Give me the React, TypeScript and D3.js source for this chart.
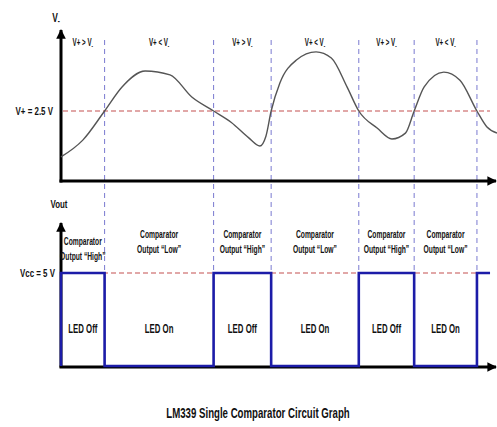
import * as d3 from "d3"

// time axis is 0..100 (arbitrary units), voltages in volts
const waveT = [0, 5, 10, 14, 19.3, 25, 30, 35, 39, 43, 45.6, 47, 48.2, 50.2, 54, 58.5, 62, 65.6, 68.3, 72.5, 75.9, 79, 81, 83.3, 87.8, 91.5, 95.4, 97.7, 100]
const waveV = [0.86, 1.46, 2.5, 3.36, 3.93, 3.79, 3.0, 2.5, 2.1, 1.55, 1.25, 1.6, 2.5, 3.5, 4.32, 4.61, 4.39, 3.36, 2.5, 1.89, 1.5, 1.71, 2.5, 3.36, 3.89, 3.6, 2.5, 1.93, 1.71]
const crossings = [10, 35, 48.2, 68.3, 81, 95.4]
const regionLabels = ["V+ > V", "V+ < V", "V+ > V", "V+ < V", "V+ > V", "V+ < V"]
const outStates = [1, 0, 1, 0, 1, 0, 1]
const outEnd = 98.4
const vRef = 2.5
const vcc = 5
const compLabels = ["Output \u201cHigh\u201d", "Output \u201cLow\u201d"]
const ledLabels = ["LED On", "LED Off"]
const title = "LM339 Single Comparator  Circuit Graph"

const W = 497, H = 427
const FONT = "'Liberation Sans', Arial, sans-serif"
const BLUE = "#1c1ca8"
const DASH_V = "#7a7ad0"
const DASH_H = "#d88a8a"

// condensed text: no narrow font available, so squeeze horizontally
function T(props: { x: number; y: number; size: number; sx: number; anchor?: string; children: any }) {
  const { x, y, size, sx, anchor = "middle", children } = props
  return (
    <g transform={`translate(${x},${y}) scale(${sx},1)`}>
      <text fontSize={size} fontWeight="bold" textAnchor={anchor}>{children}</text>
    </g>
  )
}

export default function App() {
  const x = d3.scaleLinear().domain([0, 100]).range([61, 497])
  const yTop = d3.scaleLinear().domain([0, 5]).range([181, 41])
  const yBot = d3.scaleLinear().domain([0, vcc]).range([366, 273])

  const pts = waveT.map((t, i) => [t, waveV[i]] as [number, number])
  const line = d3.line<[number, number]>().x(d => x(d[0])).y(d => yTop(d[1])).curve(d3.curveMonotoneX)

  const bounds = [0, ...crossings, outEnd]
  const sq: [number, number][] = []
  outStates.forEach((s, i) => {
    sq.push([bounds[i], s * vcc])
    sq.push([bounds[i + 1], s * vcc])
  })
  const sqLine = d3.line<[number, number]>().x(d => x(d[0])).y(d => yBot(d[1]))
  const sqPath = "M" + x(0) + "," + yBot(0) + (sqLine(sq) || "").replace(/^M/, "L")

  const regions = bounds.slice(0, -2).map((b, i) => ({ a: b, b: bounds[i + 1], i }))

  return (
    <svg width={W} height={H} style={{ position: "absolute", left: 0, top: 0, background: "#fff" }}>
      <defs>
        <marker id="arr" viewBox="0 0 10 10" refX="9" refY="5" markerWidth="3.2" markerHeight="3.2" orient="auto">
          <path d="M0,0 L10,5 L0,10 z" fill="#000" />
        </marker>
      </defs>
      <g fontFamily={FONT} fill="#111">
        {/* vertical dashed region lines */}
        {crossings.map(c => (
          <line key={c} x1={x(c)} x2={x(c)} y1={40} y2={yBot(vcc)} stroke={DASH_V} strokeWidth={1} strokeDasharray="5,4" />
        ))}
        {/* reference lines */}
        <line x1={x(0) + 2} x2={x(98.4)} y1={yTop(vRef)} y2={yTop(vRef)} stroke={DASH_H} strokeWidth={1.3} strokeDasharray="5,3" />
        <line x1={x(0) + 2} x2={x(98.4)} y1={yBot(vcc)} y2={yBot(vcc)} stroke={DASH_H} strokeWidth={1.3} strokeDasharray="5,3" />

        {/* top axes */}
        <line x1={x(0)} x2={x(0)} y1={yTop(0) + 1.5} y2={30} stroke="#000" strokeWidth={3} markerEnd="url(#arr)" />
        <line x1={x(0) - 1.5} x2={W - 1} y1={yTop(0)} y2={yTop(0)} stroke="#000" strokeWidth={3} markerEnd="url(#arr)" />
        <path d={line(pts) || ""} fill="none" stroke="#555" strokeWidth={1.4} />

        {/* bottom axes */}
        <line x1={x(0)} x2={x(0)} y1={yBot(0) + 1.5} y2={223} stroke="#000" strokeWidth={3} markerEnd="url(#arr)" />
        <line x1={x(0) - 1.5} x2={W - 1} y1={yBot(0) + 1} y2={yBot(0) + 1} stroke="#000" strokeWidth={3} markerEnd="url(#arr)" />
        <path d={sqPath} fill="none" stroke={BLUE} strokeWidth={2.6} />

        {/* axis labels */}
        <T x={56} y={22} size={12} sx={0.7}>V<tspan fontSize={9} dy={2}>-</tspan></T>
        <T x={53} y={yTop(vRef) + 4} size={11} sx={0.72} anchor="end">V+ = 2.5 V</T>
        <T x={59} y={208} size={11} sx={0.72}>Vout</T>
        <T x={55} y={yBot(vcc) + 4} size={11} sx={0.72} anchor="end">Vcc = 5 V</T>

        {/* region labels */}
        {regions.map(r => {
          const cx = x((r.a + r.b) / 2)
          const hi = outStates[r.i]
          const y1 = r.i === 0 ? 245 : 238
          return (
            <g key={r.i}>
              <T x={cx} y={46} size={10} sx={0.62}>
                {regionLabels[r.i]}<tspan fontSize={7} dy={1.5}>-</tspan>
              </T>
              <T x={cx} y={y1} size={10.5} sx={0.64}>Comparator</T>
              <T x={cx} y={y1 + 15} size={10.5} sx={0.64}>{compLabels[1 - hi]}</T>
              <T x={cx} y={333} size={13.5} sx={0.58}>{ledLabels[hi]}</T>
            </g>
          )
        })}

        <T x={258} y={418} size={14} sx={0.69}>{title}</T>
      </g>
    </svg>
  )
}
